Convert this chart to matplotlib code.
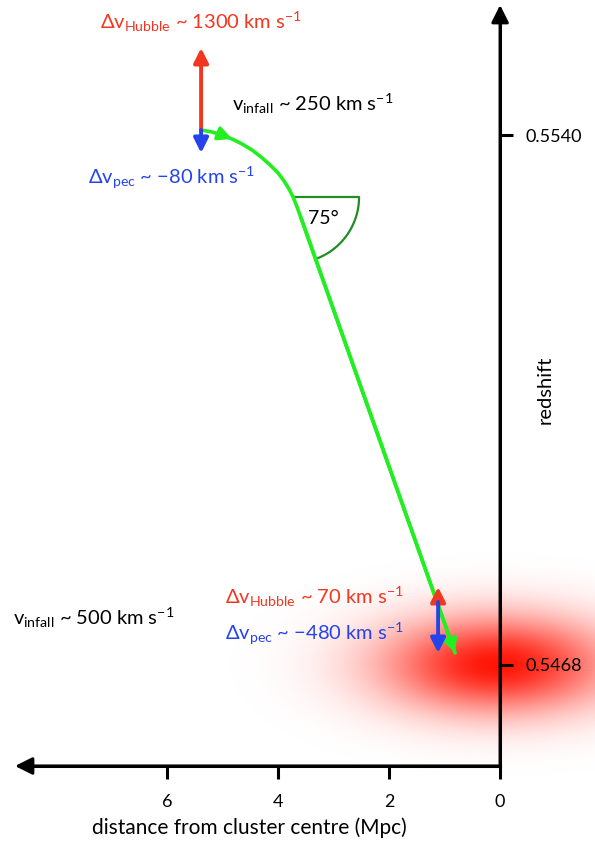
import numpy as np
import matplotlib
matplotlib.use('Agg')
import matplotlib.pyplot as plt

plt.rcParams['font.family'] = ['Lato', 'DejaVu Sans']
plt.rcParams['mathtext.fontset'] = 'custom'
plt.rcParams['mathtext.rm'] = 'Lato'
plt.rcParams['mathtext.it'] = 'Lato:italic'
plt.rcParams['mathtext.bf'] = 'Lato:bold'

# infall trajectory (distance in Mpc, redshift)
traj_dist = [5.387, 5.189, 5.009, 4.829, 4.649, 4.468, 4.306, 4.144, 4.000,
             3.892, 3.802, 3.730, 3.658, 3.586, 0.811]
traj_z = [0.554068, 0.554041, 0.554000, 0.553946, 0.553878, 0.553796, 0.553701,
          0.553593, 0.553484, 0.553375, 0.553266, 0.553158, 0.553022, 0.552873,
          0.546963]

# velocity arrows: start, hubble tip, peculiar tip
top_dist = 5.387
top_z = [0.554068, 0.555182, 0.553756]
bot_dist = 1.117
bot_z = [0.547656, 0.547860, 0.546963]

# cluster centre
clus_dist, clus_z = 0.05, 0.5468
clus_sx, clus_sz = 1.45, 0.00046

xticks = [0, 2, 4, 6]
yticks = [0.5468, 0.5540]
ytick_labels = ['0.5468', '0.5540']
angle_label = '75°'

red = '#f3361f'
blue = '#2443ea'
green = '#22ee22'
dgreen = '#238c23'

xlim = (9.01, -1.71)
ylim = (0.544409, 0.555834)
axis_z = 0.545428
x_tip = 8.74
z_tip = 0.555766

fig = plt.figure(figsize=(5.95, 8.41), dpi=100)
ax = fig.add_axes([0, 0, 1, 1])

# red blob for the cluster
xs = np.linspace(xlim[1], xlim[0], 500)
zs = np.linspace(ylim[0], ylim[1], 800)
X, Z = np.meshgrid(xs, zs)
a = np.exp(-0.5 * ((X - clus_dist) / clus_sx) ** 2 - 0.5 * ((Z - clus_z) / clus_sz) ** 2)
img = np.zeros(X.shape + (4,))
img[..., 0] = 1.0
img[..., 1] = 0.08
img[..., 2] = 0.02
img[..., 3] = a
ax.imshow(img, extent=[xs[0], xs[-1], zs[0], zs[-1]], origin='lower',
          aspect='auto', zorder=0, interpolation='bilinear')

ax.set_xlim(*xlim)
ax.set_ylim(*ylim)

# axes
for s in ['top', 'left']:
    ax.spines[s].set_visible(False)
ax.spines['right'].set_position(('data', 0))
ax.spines['bottom'].set_position(('data', axis_z))
ax.spines['right'].set_bounds(axis_z, z_tip - 0.0002)
ax.spines['bottom'].set_bounds(0, x_tip - 0.2)
ax.spines['right'].set_linewidth(2.2)
ax.spines['bottom'].set_linewidth(2.2)
ax.yaxis.tick_right()
ax.set_xticks(xticks)
ax.set_xticklabels([str(t) for t in xticks])
ax.set_yticks(yticks)
ax.set_yticklabels(ytick_labels)
ax.tick_params(axis='x', direction='out', length=9, width=2.2, labelsize=13, pad=11)
ax.tick_params(axis='y', direction='out', length=9, width=2.2, labelsize=13, pad=9)

ax.annotate('', xy=(x_tip, axis_z), xytext=(0, axis_z),
            arrowprops=dict(arrowstyle='-|>', lw=2.2, color='k', mutation_scale=26,
                            shrinkA=0, shrinkB=0))
ax.annotate('', xy=(0, z_tip), xytext=(0, axis_z),
            arrowprops=dict(arrowstyle='-|>', lw=2.2, color='k', mutation_scale=26,
                            shrinkA=0, shrinkB=0))

ax.text(4.52, 0.544586, 'distance from cluster centre (Mpc)', fontsize=15,
        ha='center', va='center')
ax.text(-0.81, 0.550536, 'redshift', fontsize=14.5, rotation=90, ha='center', va='center')

# trajectory
ax.plot(traj_dist, traj_z, color=green, lw=2.6, solid_capstyle='round', zorder=3)
ax.annotate('', xy=(traj_dist[3], traj_z[3]), xytext=(traj_dist[2], traj_z[2]),
            arrowprops=dict(arrowstyle='-|>', lw=2.6, color=green, mutation_scale=20,
                            shrinkA=0, shrinkB=0), zorder=3)
ax.annotate('', xy=(traj_dist[-1], traj_z[-1]), xytext=(traj_dist[-2], traj_z[-2]),
            arrowprops=dict(arrowstyle='-|>', lw=2.6, color=green, mutation_scale=20,
                            shrinkA=0, shrinkB=0), zorder=3)

# angle wedge
fig.canvas.draw()
T = ax.transData
c = T.transform((traj_dist[11], traj_z[11]))
p1 = T.transform((traj_dist[-2], traj_z[-2]))
p2 = T.transform((traj_dist[-1], traj_z[-1]))
ang = np.arctan2(p2[1] - p1[1], p2[0] - p1[0])
r = 66
th = np.linspace(0, ang, 60)
arc = np.column_stack([c[0] + r * np.cos(th), c[1] + r * np.sin(th)])
arc = np.vstack([c, arc])
arc_d = T.inverted().transform(arc)
ax.plot(arc_d[:, 0], arc_d[:, 1], color=dgreen, lw=1.6, zorder=2)
ax.text(3.19, 0.55287, angle_label, fontsize=14, ha='center', va='center')

# velocity arrows
def varrow(x, z0, z1, col):
    ax.annotate('', xy=(x, z1), xytext=(x, z0),
                arrowprops=dict(arrowstyle='-|>', lw=2.8, color=col, mutation_scale=22,
                                shrinkA=0, shrinkB=0), zorder=4)

varrow(top_dist, top_z[0], top_z[1], red)
varrow(top_dist, top_z[0], top_z[2], blue)
varrow(bot_dist, bot_z[0], bot_z[1], red)
varrow(bot_dist, bot_z[0], bot_z[2], blue)

fs = 14.5
ax.text(7.207, 0.555535, r'$\Delta\mathrm{v}_{\mathrm{Hubble}}$ ~ 1300 km s$^{-1}$',
        color=red, fontsize=fs, va='center')
ax.text(4.829, 0.554421, r'$\mathrm{v}_{\mathrm{infall}}$ ~ 250 km s$^{-1}$',
        color='k', fontsize=fs, va='center')
ax.text(7.423, 0.553416, r'$\Delta\mathrm{v}_{\mathrm{pec}}$ ~ −80 km s$^{-1}$',
        color=blue, fontsize=fs, va='center')
ax.text(4.955, 0.547724, r'$\Delta\mathrm{v}_{\mathrm{Hubble}}$ ~ 70 km s$^{-1}$',
        color=red, fontsize=fs, va='center')
ax.text(4.955, 0.547221, r'$\Delta\mathrm{v}_{\mathrm{pec}}$ ~ −480 km s$^{-1}$',
        color=blue, fontsize=fs, va='center')
ax.text(8.775, 0.547438, r'$\mathrm{v}_{\mathrm{infall}}$ ~ 500 km s$^{-1}$',
        color='k', fontsize=fs, va='center')

fig.savefig('out.png', dpi=100)
